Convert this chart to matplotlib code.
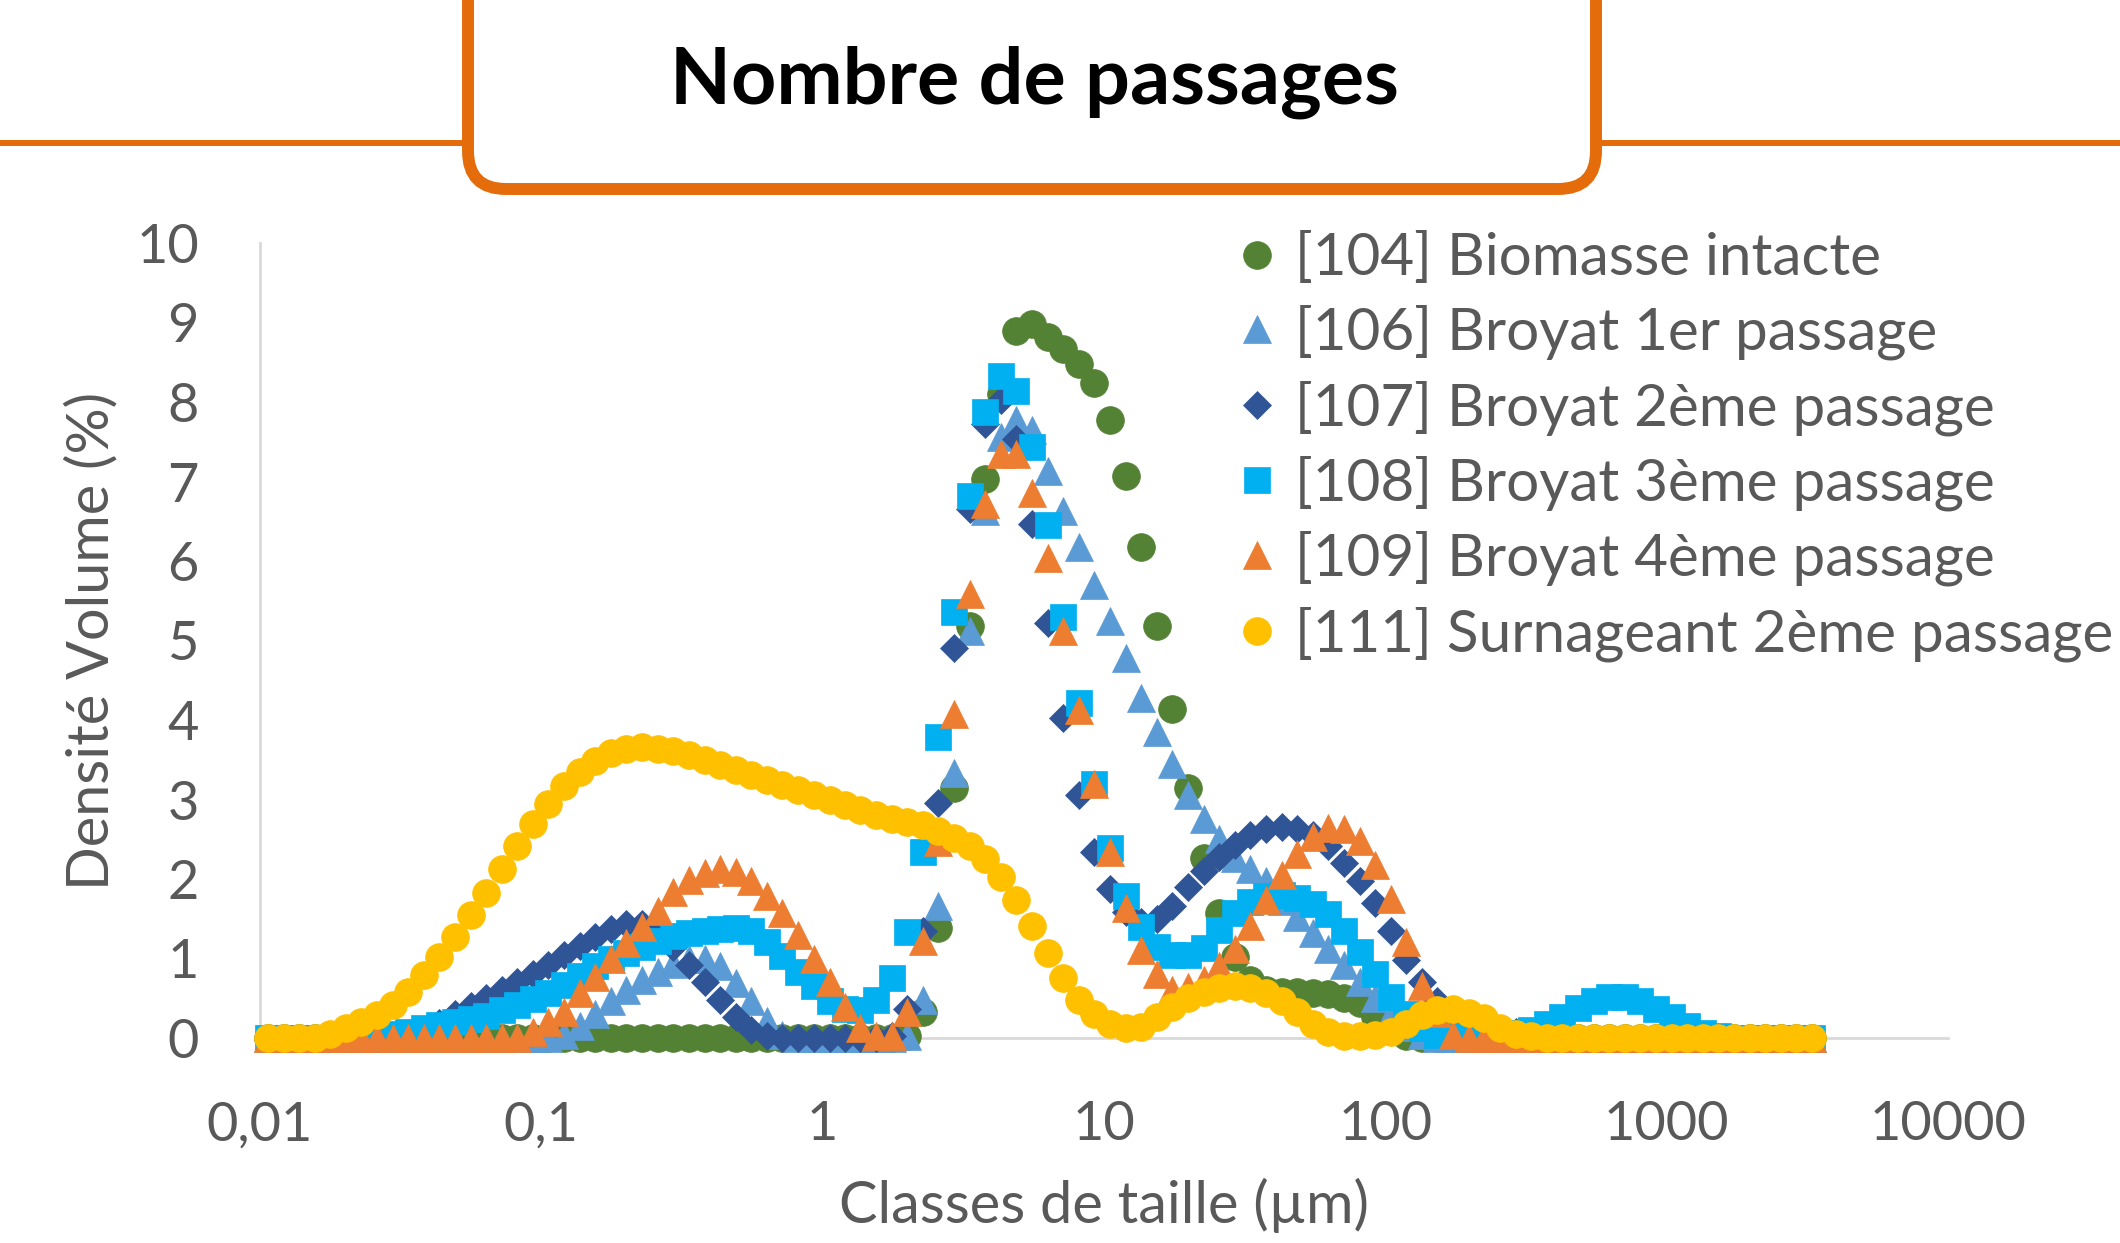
import numpy as np
import matplotlib
matplotlib.use('Agg')
import matplotlib.pyplot as plt
from matplotlib.patches import FancyBboxPatch

plt.rcParams['font.family'] = ['Lato', 'DejaVu Sans']

# bornes des classes de taille du granulometre (µm)
size_edges = [0.01, 0.0114, 0.0129, 0.0147, 0.0167, 0.0189, 0.0215, 0.0244, 0.0278, 0.0315,
              0.0358, 0.0407, 0.0463, 0.0526, 0.0597, 0.0679, 0.0771, 0.0876, 0.0995, 0.113,
              0.128, 0.146, 0.166, 0.188, 0.214, 0.243, 0.276, 0.314, 0.357, 0.405,
              0.46, 0.523, 0.594, 0.675, 0.767, 0.872, 0.991, 1.13, 1.28, 1.45,
              1.65, 1.88, 2.13, 2.42, 2.75, 3.12, 3.55, 4.03, 4.58, 5.21,
              5.92, 6.72, 7.64, 8.68, 9.86, 11.2, 12.7, 14.5, 16.4, 18.7,
              21.2, 24.1, 27.4, 31.1, 35.3, 40.1, 45.6, 51.8, 58.9, 66.9,
              76.0, 86.4, 98.1, 111, 127, 144, 163, 186, 211, 240,
              272, 310, 352, 400, 454, 516, 586, 666, 756, 859,
              976, 1110, 1260, 1430, 1630, 1850, 2100, 2390, 2710, 3080, 3500]
# centre de chaque classe
size_classes = np.sqrt(np.array(size_edges[:-1]) * np.array(size_edges[1:]))

# densite volume (%) par classe, 100 valeurs par echantillon
biomasse_104 = [0] * 41 + [
    0.02, 0.33, 1.38, 3.14, 5.18, 7.03, 8.1, 8.89, 8.98, 8.82,
    8.67, 8.48, 8.24, 7.77, 7.07, 6.18, 5.18, 4.14, 3.14, 2.27,
    1.57, 1.02, 0.73, 0.6, 0.58, 0.58, 0.57, 0.55, 0.5, 0.44,
    0.27, 0.1, 0.02] + [0] * 26

broyat1_106 = [0] * 19 + [
    0.04, 0.15, 0.3, 0.46, 0.6, 0.73, 0.83, 0.93, 0.99, 1.0,
    0.9, 0.69, 0.46, 0.22, 0.04] + [0] * 7 + [
    0.03, 0.48, 1.66, 3.33, 5.12, 6.63, 7.56, 7.77, 7.65, 7.13,
    6.63, 6.17, 5.7, 5.25, 4.78, 4.28, 3.85, 3.45, 3.06, 2.76,
    2.5, 2.26, 2.12, 1.97, 1.72, 1.52, 1.32, 1.12, 0.92, 0.7,
    0.5, 0.3, 0.14, 0.04] + [0] * 25

broyat2_107 = [0] * 10 + [
    0.06, 0.19, 0.3, 0.4, 0.5, 0.6, 0.7, 0.81, 0.92, 1.04,
    1.16, 1.27, 1.37, 1.44, 1.43, 1.34, 1.14, 0.92, 0.71, 0.48,
    0.27, 0.1, 0.03] + [0] * 7 + [
    0.03, 0.37, 1.35, 2.96, 4.9, 6.65, 7.72, 8.03, 7.53, 6.47,
    5.22, 4.03, 3.06, 2.34, 1.87, 1.59, 1.46, 1.5, 1.66, 1.9,
    2.1, 2.28, 2.43, 2.55, 2.63, 2.66, 2.63, 2.55, 2.42, 2.2,
    1.97, 1.7, 1.35, 0.98, 0.71, 0.47, 0.3, 0.18, 0.12, 0.09,
    0.08, 0.06, 0.03] + [0] * 17

broyat3_108 = [0] * 7 + [
    0.02, 0.05, 0.08, 0.12, 0.16, 0.2, 0.24, 0.28, 0.35, 0.42,
    0.49, 0.56, 0.67, 0.78, 0.9, 0.99, 1.07, 1.15, 1.22, 1.28,
    1.32, 1.35, 1.37, 1.38, 1.34, 1.21, 1.03, 0.83, 0.65, 0.47,
    0.36, 0.35, 0.48, 0.75, 1.33, 2.34, 3.78, 5.36, 6.82, 7.87,
    8.33, 8.14, 7.43, 6.45, 5.3, 4.21, 3.2, 2.39, 1.78, 1.4,
    1.15, 1.05, 1.05, 1.13, 1.36, 1.57, 1.71, 1.78, 1.8, 1.76,
    1.68, 1.56, 1.35, 1.08, 0.8, 0.52, 0.3, 0.12, 0.04, 0.03,
    0.03, 0.03, 0.04, 0.06, 0.1, 0.18, 0.27, 0.38, 0.46, 0.52,
    0.52, 0.47, 0.37, 0.26, 0.15, 0.06, 0.02] + [0] * 6

broyat4_109 = [0] * 17 + [
    0.08, 0.2, 0.33, 0.56, 0.77, 1.0, 1.19, 1.4, 1.6, 1.84,
    1.99, 2.08, 2.13, 2.09, 1.97, 1.78, 1.57, 1.3, 1.0, 0.71,
    0.39, 0.13, 0.03, 0.03, 0.33, 1.22, 2.46, 4.07, 5.58, 6.72,
    7.34, 7.34, 6.85, 6.04, 5.12, 4.13, 3.2, 2.34, 1.63, 1.11,
    0.8, 0.6, 0.64, 0.73, 0.9, 1.12, 1.41, 1.73, 2.05, 2.31,
    2.53, 2.64, 2.63, 2.48, 2.18, 1.75, 1.21, 0.65, 0.31, 0.04] + [0] * 23

surnageant_111 = [0] * 4 + [
    0.05, 0.12, 0.2, 0.29, 0.42, 0.58, 0.79, 1.02, 1.27, 1.55,
    1.83, 2.13, 2.41, 2.69, 2.94, 3.17, 3.35, 3.48, 3.58, 3.64,
    3.66, 3.64, 3.61, 3.56, 3.5, 3.43, 3.37, 3.31, 3.25, 3.18,
    3.12, 3.06, 3.0, 2.93, 2.87, 2.81, 2.76, 2.72, 2.68, 2.6,
    2.51, 2.41, 2.25, 2.03, 1.74, 1.41, 1.07, 0.76, 0.48, 0.3,
    0.18, 0.12, 0.14, 0.27, 0.39, 0.5, 0.58, 0.63, 0.65, 0.63,
    0.57, 0.47, 0.33, 0.18, 0.07, 0.02, 0.02, 0.04, 0.08, 0.18,
    0.29, 0.35, 0.36, 0.32, 0.25, 0.13, 0.05, 0.02] + [0] * 18

series_values = [biomasse_104, broyat1_106, broyat2_107, broyat3_108, broyat4_109, surnageant_111]
series_labels = ['[104] Biomasse intacte',
                 '[106] Broyat 1er passage',
                 '[107] Broyat 2ème passage',
                 '[108] Broyat 3ème passage',
                 '[109] Broyat 4ème passage',
                 '[111] Surnageant 2ème passage']
series_colors = ['#548235', '#5B9BD5', '#2F5597', '#00B0F0', '#ED7D31', '#FFC000']
series_markers = ['o', '^', 'D', 's', '^', 'o']
series_sizes = [20, 20, 14, 19, 20, 20]

x_ticks = [0.01, 0.1, 1, 10, 100, 1000, 10000]
x_tick_labels = ['0,01', '0,1', '1', '10', '100', '1000', '10000']
y_ticks = [0, 1, 2, 3, 4, 5, 6, 7, 8, 9, 10]

orange = '#E46C0A'
grey_text = '#595959'
W, H = 2120, 1243

fig = plt.figure(figsize=(W / 100, H / 100), dpi=100)

# cartouche du titre, dessine en coordonnees pixel
bg = fig.add_axes([0, 0, 1, 1])
bg.set_xlim(0, W)
bg.set_ylim(H, 0)
bg.axis('off')
bg.plot([0, W], [143, 143], color=orange, lw=4.3, solid_capstyle='butt', zorder=1)
box = FancyBboxPatch((468, -300), 1128, 489, boxstyle='round,pad=0,rounding_size=38',
                     fc='white', ec=orange, lw=8.6, zorder=2)
bg.add_patch(box)
bg.text(1034, 104, 'Nombre de passages', ha='center', va='baseline',
        fontsize=57, fontweight='bold', color='black', zorder=3)

# graphique principal
ax = fig.add_axes([260 / W, 1 - 1038 / H, (1948 - 260) / W, (1038 - 243) / H])
ax.set_facecolor('none')

handles = []
for vals, lab, col, mk, ms in zip(series_values, series_labels, series_colors,
                                  series_markers, series_sizes):
    h, = ax.plot(size_classes, vals, linestyle='none', marker=mk, markersize=ms,
                 color=col, markeredgecolor=col, markeredgewidth=0.5,
                 label=lab, clip_on=False, zorder=3)
    handles.append(h)

ax.set_xscale('log')
ax.set_xlim(0.01, 10000)
ax.set_ylim(0, 10)
ax.set_xticks(x_ticks)
ax.set_xticklabels(x_tick_labels)
ax.minorticks_off()
ax.set_yticks(y_ticks)
ax.tick_params(axis='both', length=0, labelsize=39, labelcolor=grey_text)
ax.tick_params(axis='x', pad=45)
ax.tick_params(axis='y', pad=44)

for side in ['top', 'right']:
    ax.spines[side].set_visible(False)
for side in ['left', 'bottom']:
    ax.spines[side].set_color('#D9D9D9')
    ax.spines[side].set_linewidth(2)

ax.set_xlabel('Classes de taille (µm)', fontsize=41.5, color=grey_text, va='center')
ax.set_ylabel('Densité Volume (%)', fontsize=41.5, color=grey_text, va='center')
ax.xaxis.set_label_coords(0.5, -0.211)
ax.yaxis.set_label_coords(-0.0995, 0.5)

fig.legend(handles, series_labels, loc='upper left', bbox_to_anchor=(1228 / W, 1 - 232 / H),
           frameon=False, fontsize=42, handlelength=1.0, handletextpad=0.15,
           labelspacing=0.34, borderpad=0, borderaxespad=0, numpoints=1,
           labelcolor=grey_text)

fig.savefig('out.png', dpi=100)
